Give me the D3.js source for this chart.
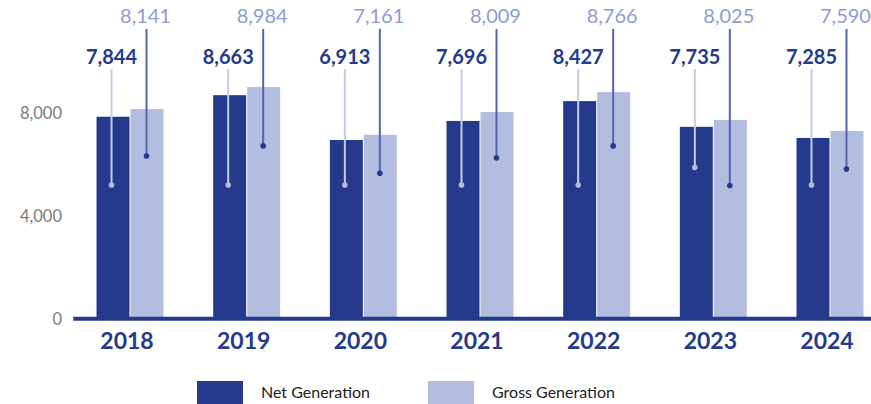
<!DOCTYPE html>
<html>
<head>
<meta charset="utf-8">
<script src="https://cdn.jsdelivr.net/npm/d3@7"></script>
<style>
  html, body { margin: 0; padding: 0; background: #fff; }
  svg { display: block; font-family: Lato, "Open Sans", sans-serif; }
</style>
</head>
<body>
<svg id="chart" width="871" height="404"></svg>
<script>
const years = ["2018", "2019", "2020", "2021", "2022", "2023", "2024"];
// printed value labels
const netLabels = [7844, 8663, 6913, 7696, 8427, 7735, 7285];
const grossLabels = [8141, 8984, 7161, 8009, 8766, 8025, 7590];
// bar heights as drawn in the picture
const netBars = [7844, 8680, 6940, 7680, 8450, 7450, 7020];
const grossBars = [8141, 8995, 7140, 8025, 8800, 7720, 7290];
// value at which each label's leader line ends (dot)
const netLeaderEnd = [5190, 5190, 5190, 5190, 5190, 5870, 5190];
const grossLeaderEnd = [6320, 6710, 5650, 6240, 6710, 5170, 5810];
const yTicks = [0, 4000, 8000];
const seriesNames = ["Net Generation", "Gross Generation"];

const W = 871, H = 404;
const DARK = "#253a8c", LIGHT = "#b3bde0";
const svg = d3.select("#chart");

const y = d3.scaleLinear().domain([0, 12000]).range([318.7, 318.7 - 309]);
const x = d3.scaleBand().domain(years).range([73.2, 886.8]).paddingInner(0.426).paddingOuter(0.2);
const xs = d3.scaleBand().domain(["net", "gross"]).range([0, x.bandwidth()]).paddingInner(0.03);

const rows = years.map((yr, i) => ({
  year: yr, net: netBars[i], gross: grossBars[i],
  netLabel: netLabels[i], grossLabel: grossLabels[i],
  netEnd: netLeaderEnd[i], grossEnd: grossLeaderEnd[i]
}));

// bars
const g = svg.append("g");
const groups = g.selectAll("g.grp").data(rows).join("g")
  .attr("class", "grp")
  .attr("transform", d => `translate(${x(d.year)},0)`);

groups.append("rect")
  .attr("x", xs("net")).attr("width", xs.bandwidth())
  .attr("y", d => y(d.net)).attr("height", d => y(0) - y(d.net))
  .attr("fill", DARK);
groups.append("rect")
  .attr("x", xs("gross")).attr("width", xs.bandwidth())
  .attr("y", d => y(d.gross)).attr("height", d => y(0) - y(d.gross))
  .attr("fill", LIGHT);

// leader lines + dots
const netCx = xs("net") + xs.bandwidth() / 2 - 1.5;
const grossCx = xs("gross") + xs.bandwidth() / 2 - 0.5;

groups.append("line")
  .attr("x1", netCx).attr("x2", netCx)
  .attr("y1", 69).attr("y2", d => y(d.netEnd))
  .attr("stroke", "#c6cce7").attr("stroke-width", 2);
groups.append("circle")
  .attr("cx", netCx).attr("cy", d => y(d.netEnd)).attr("r", 2.8)
  .attr("fill", "#b3bbdf");

groups.append("line")
  .attr("x1", grossCx).attr("x2", grossCx)
  .attr("y1", 29).attr("y2", d => y(d.grossEnd))
  .attr("stroke", "#5463ac").attr("stroke-width", 2);
groups.append("circle")
  .attr("cx", grossCx).attr("cy", d => y(d.grossEnd)).attr("r", 2.8)
  .attr("fill", DARK);

// value labels
const fmt = d3.format(",");
groups.append("text")
  .attr("x", netCx).attr("y", 64)
  .attr("text-anchor", "middle")
  .attr("font-size", 20).attr("font-weight", 700)
  .attr("fill", DARK)
  .text(d => fmt(d.netLabel));
groups.append("text")
  .attr("x", grossCx - 1).attr("y", 23)
  .attr("text-anchor", "middle")
  .attr("font-size", 20).attr("font-weight", 400)
  .attr("fill", "#8f9bd1")
  .text(d => fmt(d.grossLabel));

// baseline
svg.append("line")
  .attr("x1", x.range()[0]).attr("x2", W)
  .attr("y1", y(0)).attr("y2", y(0))
  .attr("stroke", DARK).attr("stroke-width", 4);

// y axis tick labels
const yAxis = d3.axisLeft(y).tickValues(yTicks).tickFormat(fmt).tickSize(0).tickPadding(0);
const ya = svg.append("g").attr("transform", "translate(62,1)").call(yAxis);
ya.select(".domain").remove();
ya.selectAll("text")
  .attr("font-family", "Lato, sans-serif")
  .attr("font-size", 16.5).attr("fill", "#7b7b7b");

// x axis labels
const xAxis = d3.axisBottom(x).tickSize(0).tickPadding(0);
const xa = svg.append("g").attr("transform", "translate(-3,333)").call(xAxis);
xa.select(".domain").remove();
xa.selectAll("text")
  .attr("font-family", "Lato, sans-serif")
  .attr("font-size", 23).attr("font-weight", 700)
  .attr("fill", DARK);

// legend
const legendX = [197, 428];
const legendColors = [DARK, LIGHT];
const lg = svg.append("g");
seriesNames.forEach((name, i) => {
  lg.append("rect").attr("x", legendX[i]).attr("y", 381)
    .attr("width", 46).attr("height", 26).attr("fill", legendColors[i]);
  lg.append("text").attr("x", legendX[i] + 64).attr("y", 398)
    .attr("font-size", 16).attr("fill", "#222").text(name);
});
</script>
</body>
</html>
